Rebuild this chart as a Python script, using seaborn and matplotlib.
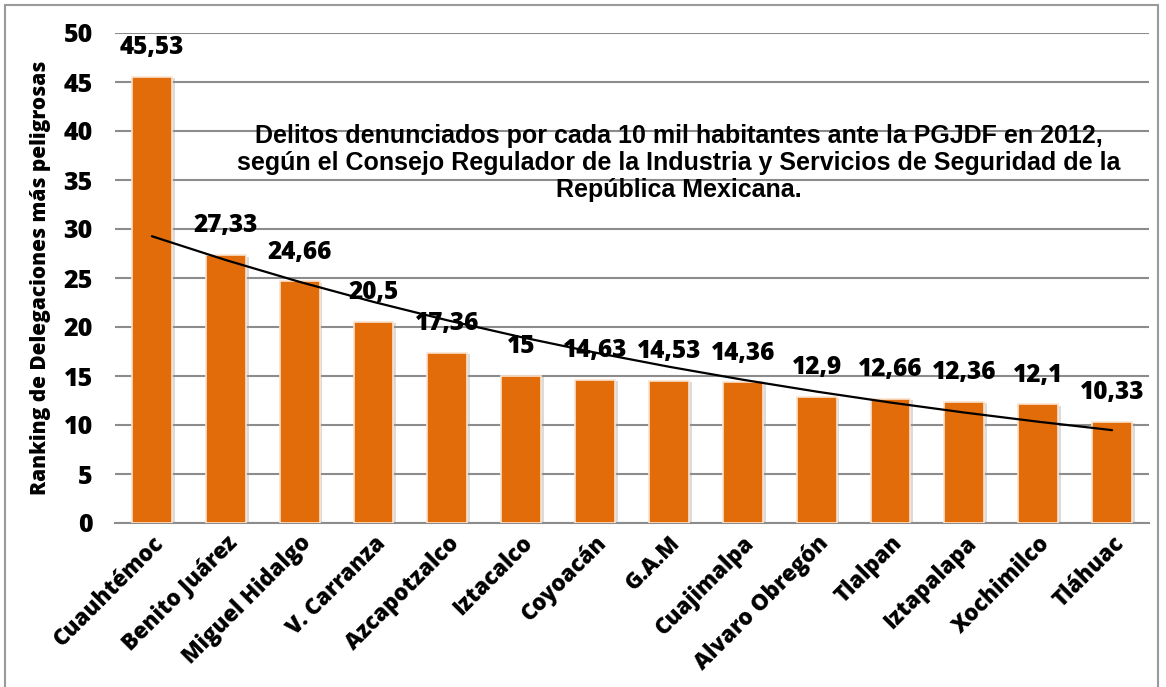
import numpy as np
import pandas as pd
import matplotlib
matplotlib.use("Agg")
import matplotlib.pyplot as plt
from matplotlib.patches import Rectangle
import matplotlib.patheffects as pe
import seaborn as sns

delegaciones = ["Cuauhtémoc", "Benito Juárez", "Miguel Hidalgo", "V. Carranza",
                "Azcapotzalco", "Iztacalco", "Coyoacán", "G.A.M", "Cuajimalpa",
                "Alvaro Obregón", "Tlalpan", "Iztapalapa", "Xochimilco", "Tláhuac"]
delitos = [45.53, 27.33, 24.66, 20.5, 17.36, 15, 14.63, 14.53, 14.36,
           12.9, 12.66, 12.36, 12.1, 10.33]
etiquetas = ["45,53", "27,33", "24,66", "20,5", "17,36", "15", "14,63", "14,53",
             "14,36", "12,9", "12,66", "12,36", "12,1", "10,33"]
titulo = ("Delitos denunciados por cada 10 mil habitantes ante la PGJDF en 2012,\n"
          "según el Consejo Regulador de la Industria y Servicios de Seguridad de la\n"
          "República Mexicana.")
ylabel = "Ranking de Delegaciones más peligrosas"
yticks = [0, 5, 10, 15, 20, 25, 30, 35, 40, 45, 50]

df = pd.DataFrame({"delegacion": delegaciones, "delitos": delitos})

sns.set_theme(style="white")
plt.rcParams["font.family"] = ["Open Sans", "DejaVu Sans"]
plt.rcParams.update({"text.color": "black", "xtick.color": "black",
                     "ytick.color": "black", "axes.labelcolor": "black"})

fig = plt.figure(figsize=(11.66, 6.87), dpi=100)
ax = fig.add_axes([115/1166, 1-523/687, (1149-115)/1166, (523-33)/687])

orange = "#E36C0A"
sns.barplot(data=df, x="delegacion", y="delitos", color=orange, saturation=1,
            width=0.54, ax=ax, edgecolor="#FBE3CF", linewidth=1.2, zorder=3)
for p in ax.patches:
    p.set_path_effects([pe.SimplePatchShadow(offset=(2, -1), shadow_rgbFace="#999999", alpha=0.35),
                        pe.Normal()])

# exponential trend line (Excel style) fitted from the data
xs = np.arange(1, len(delitos) + 1)
coef = np.polyfit(xs, np.log(delitos), 1)
trend = np.exp(np.polyval(coef, xs))
ax.plot(xs - 1, trend, color="black", lw=1.6, zorder=4)

W = 800
for i, (v, lab) in enumerate(zip(delitos, etiquetas)):
    ax.annotate(lab, (i, v), xytext=(0, 21), textcoords="offset points",
                ha="center", va="center", fontsize=17.5, fontweight=W,
                color="black", zorder=5)

ax.set_ylim(0, 50)
ax.set_xlim(-0.5, len(delitos) - 0.5)
ax.set_yticks(yticks)
ax.set_yticklabels([str(t) for t in yticks], fontsize=18, fontweight=W)
ax.yaxis.grid(True, color="#8C8C8C", lw=1.5, zorder=0)
ax.set_axisbelow(True)
for s in ["top", "right", "left"]:
    ax.spines[s].set_visible(False)
ax.spines["bottom"].set_color("#8C8C8C")
ax.spines["bottom"].set_linewidth(1.5)
ax.tick_params(axis="y", length=0, pad=16)
ax.tick_params(axis="x", length=0, pad=6)
ax.set_xticks(range(len(delegaciones)))
ax.set_xticklabels(delegaciones, rotation=45, ha="right", rotation_mode="anchor",
                   fontsize=16, fontweight=W)
ax.set_xlabel("")
ax.set_ylabel(ylabel, fontsize=15, fontweight=W, labelpad=9)

fig.text(679/1166, 1-163/687, titulo, ha="center", va="center", color="black",
         fontsize=18, fontweight="bold", family=["Liberation Sans", "DejaVu Sans"],
         linespacing=1.15, zorder=6)

fig.patches.append(Rectangle((5/1166, -0.01), (1158-5)/1166, 1-5/687+0.01,
                             transform=fig.transFigure, fill=False,
                             edgecolor="#9A9A9A", lw=1.5))

fig.savefig("out.png", dpi=100)
